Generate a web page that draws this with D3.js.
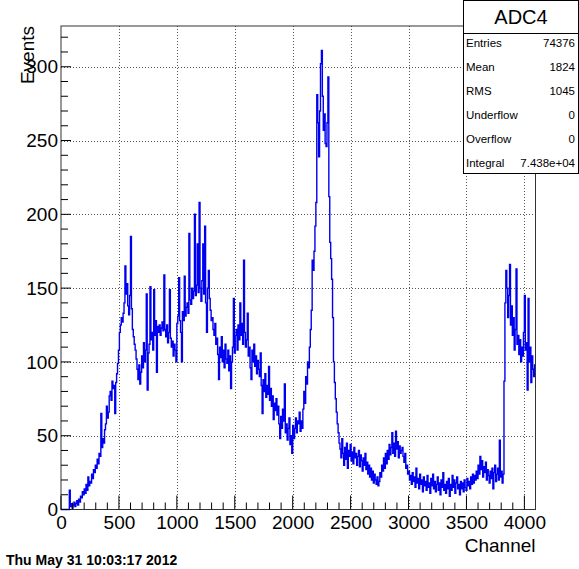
<!DOCTYPE html>
<html>
<head>
<meta charset="utf-8">
<script src="https://cdn.jsdelivr.net/npm/d3@7"></script>
<style>
  html, body { margin: 0; padding: 0; background: #fff; }
  svg { display: block; font-family: "Liberation Sans", Arial, Helvetica, sans-serif; }
</style>
</head>
<body>
<svg id="chart" width="579" height="569"></svg>
<script>
// ---- data ----
const histTitle = "ADC4";
const xTitle = "Channel";
const yTitle = "Events";
const dateText = "Thu May 31 10:03:17 2012";
const channelMax = 4096;
const binWidth = 8;
const yMax = 327.6;
const xTickValues = [0, 500, 1000, 1500, 2000, 2500, 3000, 3500, 4000];
const yTickValues = [0, 50, 100, 150, 200, 250, 300];
const statNames = ["Entries", "Mean", "RMS", "Underflow", "Overflow", "Integral"];
const statValues = ["74376", "1824", "1045", "0", "0", "7.438e+04"];
// counts per bin (8 channels each), 16 bins per row = 128 channels per row
const counts = [
  0,0,0,0,0,0,0,0,0,13,2,4,1,3,5,2,
  4,6,3,7,5,9,8,12,10,14,11,17,13,22,16,19,
  18,24,21,27,25,30,28,34,31,38,36,65,42,48,45,54,
  58,70,62,66,77,80,74,87,82,84,65,86,92,99,108,120,
  125,130,127,133,140,165,146,153,138,132,145,185,136,122,117,112,
  108,102,95,88,98,85,93,104,96,113,100,108,146,81,106,112,
  151,115,120,108,149,118,128,93,124,120,125,118,123,127,121,159,
  122,117,125,113,120,149,116,110,114,104,112,108,100,126,131,157,
  128,120,100,134,128,158,131,137,140,133,187,142,139,150,143,148,
  200,145,152,180,147,208,150,141,155,180,146,192,140,120,150,162,
  143,135,128,130,122,118,126,112,116,105,88,110,103,117,100,108,
  96,112,102,99,108,94,104,82,100,110,143,106,118,122,108,125,
  115,140,118,126,112,169,120,110,115,133,104,110,96,88,108,100,
  112,97,104,92,101,95,90,106,84,65,88,80,92,76,84,78,
  97,74,82,70,77,61,72,67,75,64,70,58,48,63,55,68,
  60,85,52,58,47,55,62,44,50,38,57,48,55,62,52,60,
  58,66,53,60,55,68,80,72,90,85,100,96,110,122,135,169,
  162,175,192,208,281,262,239,270,302,311,280,257,268,248,246,262,
  293,212,181,170,156,130,100,86,75,66,58,52,45,41,35,48,
  38,30,42,34,45,28,40,36,44,33,39,31,42,35,38,30,
  36,40,29,37,33,26,35,30,38,27,32,24,30,22,28,20,
  26,18,24,20,17,22,16,19,25,22,30,26,35,28,38,31,
  40,34,44,37,42,52,38,45,36,53,41,46,35,43,38,40,
  42,36,32,38,28,30,24,26,20,23,17,25,19,22,15,28,
  18,21,14,24,17,20,12,22,16,19,13,23,15,18,11,21,
  16,24,14,19,12,17,22,13,18,10,20,15,25,13,17,11,
  19,14,21,9,17,13,23,15,20,11,18,22,14,17,10,19,
  14,18,12,20,15,13,21,16,19,14,22,17,24,18,23,20,
  26,21,30,24,36,27,33,22,29,25,32,20,27,23,18,26,
  21,28,14,25,30,19,24,28,20,47,22,26,18,24,87,140,
  162,150,130,145,166,125,138,118,130,108,122,163,112,118,105,115,
  100,110,104,120,145,108,113,81,143,100,110,86,104,95,90,98
];

// ---- layout ----
const frame = { left: 61, right: 535.5, top: 26, bottom: 509.5 };
const svg = d3.select("#chart");

const x = d3.scaleLinear().domain([0, channelMax]).range([frame.left, frame.right]);
const y = d3.scaleLinear().domain([0, yMax]).range([frame.bottom, frame.top]);

// grid
const grid = svg.append("g").attr("stroke", "#555").attr("stroke-width", 1)
  .attr("stroke-dasharray", "1,2").attr("shape-rendering", "crispEdges");
grid.selectAll("line.gx").data(xTickValues.filter(d => d > 0)).join("line")
  .attr("x1", d => Math.round(x(d)) + 0.5).attr("x2", d => Math.round(x(d)) + 0.5)
  .attr("y1", frame.top).attr("y2", frame.bottom);
grid.selectAll("line.gy").data(yTickValues.filter(d => d > 0)).join("line")
  .attr("y1", d => Math.round(y(d)) + 0.5).attr("y2", d => Math.round(y(d)) + 0.5)
  .attr("x1", frame.left).attr("x2", frame.right);

// histogram
const pts = counts.map((v, i) => [i * binWidth, v]);
pts.push([channelMax, counts[counts.length - 1]]);
const line = d3.line().x(d => x(d[0])).y(d => y(d[1])).curve(d3.curveStepAfter);
svg.append("path").attr("d", line(pts)).attr("fill", "none")
  .attr("stroke", "#0000f0").attr("stroke-width", 1.4);

// frame
svg.append("rect").attr("x", frame.left).attr("y", frame.top)
  .attr("width", frame.right - frame.left).attr("height", frame.bottom - frame.top)
  .attr("fill", "none").attr("stroke", "#333").attr("stroke-width", 1);

// x axis
const xAxis = d3.axisBottom(x).tickValues(xTickValues).tickSize(0).tickFormat(d3.format("d"));
const gx = svg.append("g").attr("transform", `translate(0,${frame.bottom})`).call(xAxis);
gx.select(".domain").remove();
gx.selectAll("text").attr("font-size", 19).attr("fill", "#000").attr("dy", null).attr("y", 19)
  .attr("font-family", '"Liberation Sans", Arial, sans-serif');
const xMinor = d3.range(0, channelMax + 1, 100);
svg.append("g").attr("stroke", "#000").selectAll("line").data(xMinor).join("line")
  .attr("x1", d => x(d)).attr("x2", d => x(d))
  .attr("y1", frame.bottom).attr("y2", d => frame.bottom - (d % 500 === 0 ? 14 : 7));

// y axis
const yAxis = d3.axisLeft(y).tickValues(yTickValues).tickSize(0).tickPadding(3);
const gy = svg.append("g").attr("transform", `translate(${frame.left},0)`).call(yAxis);
gy.select(".domain").remove();
gy.selectAll("text").attr("font-size", 19).attr("fill", "#000")
  .attr("font-family", '"Liberation Sans", Arial, sans-serif');
const yMinor = d3.range(0, 321, 10);
svg.append("g").attr("stroke", "#000").selectAll("line").data(yMinor).join("line")
  .attr("y1", d => y(d)).attr("y2", d => y(d))
  .attr("x1", frame.left).attr("x2", d => frame.left + (d % 50 === 0 ? 10 : 7));

// axis titles
svg.append("text").attr("x", frame.right).attr("y", 552).attr("text-anchor", "end")
  .attr("font-size", 19).text(xTitle);
svg.append("text").attr("transform", `translate(34,${frame.top}) rotate(-90)`)
  .attr("text-anchor", "end").attr("font-size", 19).text(yTitle);

// date
svg.append("text").attr("x", 6).attr("y", 565).attr("font-size", 14)
  .attr("font-weight", "bold").text(dateText);

// stats box
const box = { x: 463.5, y: 0.5, w: 115, h: 173 };
svg.append("rect").attr("x", box.x).attr("y", box.y).attr("width", box.w).attr("height", box.h)
  .attr("fill", "#fff").attr("stroke", "#000").attr("stroke-width", 1);
svg.append("line").attr("x1", box.x).attr("x2", box.x + box.w).attr("y1", 33.5).attr("y2", 33.5)
  .attr("stroke", "#000");
svg.append("text").attr("x", box.x + box.w / 2).attr("y", 24).attr("text-anchor", "middle")
  .attr("font-size", 20).text(histTitle);
const rowY = d3.scaleLinear().domain([0, statNames.length - 1]).range([47, 167]);
svg.append("g").selectAll("text").data(statNames).join("text")
  .attr("x", 466).attr("y", (d, i) => rowY(i)).attr("font-size", 11.5).text(d => d);
svg.append("g").selectAll("text").data(statValues).join("text")
  .attr("x", 575).attr("y", (d, i) => rowY(i)).attr("text-anchor", "end").attr("font-size", 11.5).text(d => d);
</script>
</body>
</html>
